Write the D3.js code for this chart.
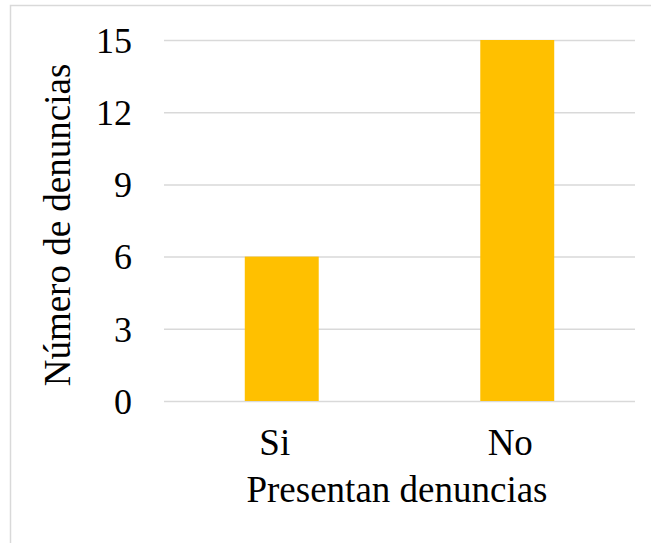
<!DOCTYPE html>
<html><head><meta charset="utf-8">
<script src="https://cdn.jsdelivr.net/npm/d3@7"></script>
<style>body{margin:0;background:#fff}svg{display:block}</style>
</head><body>
<script>
const categories = ["Si", "No"];
const values = [6, 15];
const yTicks = [0, 3, 6, 9, 12, 15];
const xTitle = "Presentan denuncias";
const yTitle = "Número de denuncias";

const FONT = "'Liberation Serif', Tinos, 'Times New Roman', Times, 'DejaVu Serif', serif";
const W = 651, H = 543;
const svg = d3.select("body").append("svg").attr("width", W).attr("height", H);
svg.append("rect").attr("x", 10.5).attr("y", 5.5).attr("width", W).attr("height", H)
  .attr("fill", "#fff").attr("stroke", "#d9d9d9").attr("stroke-width", 1.5);

const x = d3.scaleBand().domain(categories).range([164, 635]).padding(0);
const y = d3.scaleLinear().domain([0, 15]).range([401, 40]);
const fsTick = 36, fs = 37;

const yAxis = d3.axisLeft(y).tickValues(yTicks).tickSize(-(635 - 164)).tickPadding(32);
const gy = svg.append("g").attr("transform", "translate(164,0)").call(yAxis);
gy.attr("font-family", null);
gy.select(".domain").remove();
gy.selectAll(".tick line").attr("stroke", "#d9d9d9").attr("stroke-width", 1.5);
gy.selectAll(".tick text").attr("dy", "0.34em").style("font-size", fsTick + "px").style("font-family", FONT).attr("fill", "#000");

const barW = x.bandwidth() * 0.314;
svg.append("g").selectAll("rect").data(values).join("rect")
  .attr("x", (d, i) => x(categories[i]) + x.bandwidth() / 2 - barW / 2)
  .attr("width", barW)
  .attr("y", d => y(d))
  .attr("height", d => y(0) - y(d))
  .attr("fill", "#FFC000");

const xAxis = d3.axisBottom(x).tickSize(0).tickPadding(0);
const gx = svg.append("g").attr("transform", "translate(-7,455)").call(xAxis);
gx.attr("font-family", null);
gx.select(".domain").remove();
gx.selectAll(".tick text").attr("dy", 0).style("font-size", fs + "px").style("font-family", FONT).attr("fill", "#000");

svg.append("text").attr("x", 397).attr("y", 502).attr("text-anchor", "middle")
  .style("font-size", fs + "px").style("font-family", FONT).text(xTitle);
svg.append("text").attr("transform", "translate(70,225) rotate(-90)").attr("text-anchor", "middle")
  .style("font-size", fs + "px").style("font-family", FONT).text(yTitle);
</script>
</body></html>
